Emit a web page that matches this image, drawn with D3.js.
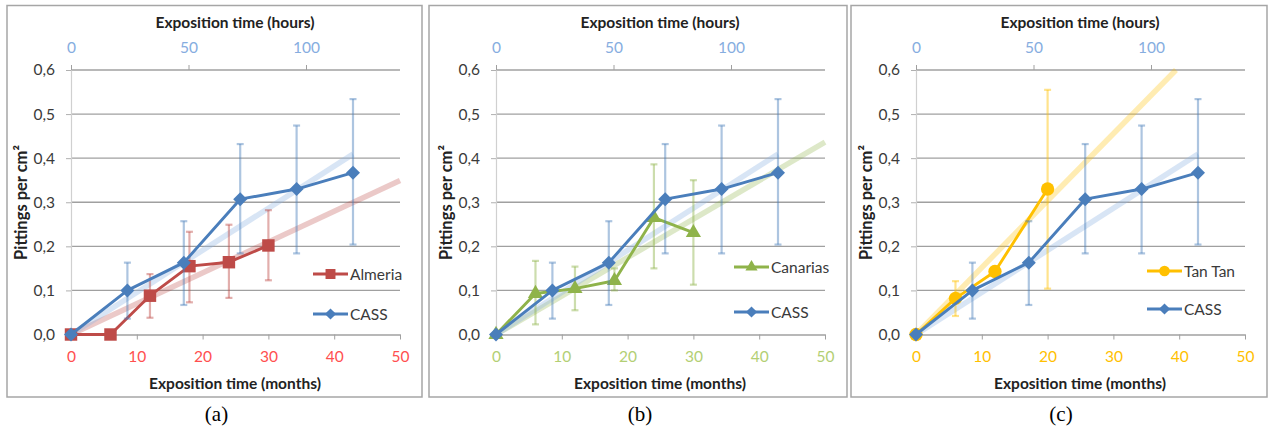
<!DOCTYPE html>
<html>
<head>
<meta charset="utf-8">
<script src="https://cdn.jsdelivr.net/npm/d3@7"></script>
<style>
  body { margin: 0; background: #fff; }
  svg { display: block; }
</style>
</head>
<body>
<script>
// axis ticks
var monthTicks = [0, 10, 20, 30, 40, 50];
var hourTicks = [0, 50, 100];
var yTicks = [0, 0.1, 0.2, 0.3, 0.4, 0.5, 0.6];

// CASS test (hours, top axis)
var cassHours = [0, 24, 48, 72, 96, 120];
var cassValues = [0, 0.1, 0.163, 0.307, 0.33, 0.367];
var cassLow = [null, 0.036, 0.067, 0.184, 0.184, 0.204];
var cassHigh = [null, 0.163, 0.257, 0.432, 0.474, 0.534];

// outdoor sites (months, bottom axis)
var almeriaMonths = [0, 6, 12, 18, 24, 30];
var almeriaValues = [0, 0, 0.088, 0.155, 0.164, 0.202];
var almeriaLow = [null, null, 0.038, 0.073, 0.083, 0.123];
var almeriaHigh = [null, null, 0.137, 0.233, 0.249, 0.282];

var canariasMonths = [0, 6, 12, 18, 24, 30];
var canariasValues = [0, 0.093, 0.104, 0.122, 0.265, 0.231];
var canariasLow = [null, 0.023, 0.055, 0.1, 0.15, 0.113];
var canariasHigh = [null, 0.167, 0.154, 0.15, 0.386, 0.35];

var tantanMonths = [0, 6, 12, 20];
var tantanValues = [0, 0.082, 0.143, 0.33];
var tantanLow = [null, 0.042, null, 0.104];
var tantanHigh = [null, 0.121, null, 0.555];

var CASS_COLOR = "#4A7EBB";
var FONT = "Lato, 'Open Sans', sans-serif";

var panels = [
  { caption: "(a)", name: "Almeria", xs: almeriaMonths, ys: almeriaValues, lo: almeriaLow, hi: almeriaHigh,
    color: "#BE4B48", tickColor: "#FF4F4F", marker: "square",
    left: 7, right: 422, plotLeft: 71, legendX: 242, legendY: [274, 314] },
  { caption: "(b)", name: "Canarias", xs: canariasMonths, ys: canariasValues, lo: canariasLow, hi: canariasHigh,
    color: "#8FB34A", tickColor: "#B3CF74", marker: "triangle",
    left: 429, right: 847, plotLeft: 496, legendX: 238, legendY: [267, 312] },
  { caption: "(c)", name: "Tan Tan", xs: tantanMonths, ys: tantanValues, lo: tantanLow, hi: tantanHigh,
    color: "#FFC000", tickColor: "#FFC000", marker: "circle",
    left: 851, right: 1267, plotLeft: 916, legendX: 231, legendY: [271, 309] }
];

var svg = d3.select("body").append("svg")
  .attr("width", 1268)
  .attr("height", 430)
  .style("font-family", FONT);

svg.append("rect").attr("width", 1268).attr("height", 430).attr("fill", "#fff");

panels.forEach(draw_panel);

function origin_slope(xs, ys) {
  var sxy = 0, sxx = 0;
  xs.forEach(function(v, i) { sxy += v * ys[i]; sxx += v * v; });
  return sxy / sxx;
}

function marker_path(kind, big) {
  var s = big ? 1 : 0.8;
  if (kind == "square") return d3.symbol().type(d3.symbolSquare).size(155 * s * s)();
  if (kind == "triangle") return d3.symbol().type(d3.symbolTriangle).size(100 * s * s)();
  if (kind == "circle") return d3.symbol().type(d3.symbolCircle).size(140 * s * s)();
  return d3.symbol().type(d3.symbolSquare).size(98 * s * s)();
}

function draw_panel(p) {
  var g = svg.append("g");
  var w = 329;

  var x = d3.scaleLinear().domain([0, 50]).range([p.plotLeft, p.plotLeft + w]);
  var xh = d3.scaleLinear().domain([0, 140]).range([p.plotLeft, p.plotLeft + w]);
  var y = d3.scaleLinear().domain([0, 0.6]).range([334.5, 70]);

  g.append("rect")
    .attr("x", p.left).attr("y", 5.5)
    .attr("width", p.right - p.left).attr("height", 391.5)
    .attr("fill", "#fff")
    .attr("stroke", "#a6a6a6")
    .attr("stroke-width", 1.5);

  // gridlines
  g.selectAll(".grid").data(yTicks.slice(1)).enter().append("line")
    .attr("x1", p.plotLeft).attr("x2", p.plotLeft + w)
    .attr("y1", function(d) { return y(d); })
    .attr("y2", function(d) { return y(d); })
    .attr("stroke", "#a0a0a0").attr("stroke-width", 1.3);

  // y axis
  var yAxis = g.append("g")
    .attr("transform", "translate(" + p.plotLeft + ",0)")
    .call(d3.axisLeft(y).tickValues(yTicks).tickSize(5).tickSizeOuter(0).tickPadding(11)
      .tickFormat(function(d) { return d.toFixed(1).replace(".", ","); }));
  yAxis.select(".domain").attr("stroke", "#d0d0d0").attr("stroke-width", 1.2);
  yAxis.selectAll("line").attr("stroke", "#b0b0b0");
  yAxis.selectAll("text").attr("font-size", 15.5).attr("fill", "#3a3a3a")
    .style("font-family", FONT);

  // bottom axis (months)
  var xAxis = g.append("g")
    .attr("transform", "translate(0," + y(0) + ")")
    .call(d3.axisBottom(x).tickValues(monthTicks).tickSize(5).tickSizeOuter(0));
  xAxis.select(".domain").attr("stroke", "#a0a0a0").attr("stroke-width", 1.3);
  xAxis.selectAll("line").attr("stroke", "#a0a0a0");
  xAxis.selectAll("text").attr("y", 27.5).attr("dy", 0)
    .attr("font-size", 15.5).attr("fill", p.tickColor).style("font-family", FONT);

  // top axis (hours)
  var hAxis = g.append("g")
    .attr("transform", "translate(0," + y(0.6) + ")")
    .call(d3.axisTop(xh).tickValues(hourTicks).tickSize(5).tickSizeOuter(0));
  hAxis.select(".domain").remove();
  hAxis.selectAll("line").attr("stroke", "#a0a0a0");
  hAxis.selectAll("text").attr("y", -17).attr("dy", 0)
    .attr("font-size", 15.5).attr("fill", "#86ADDF").style("font-family", FONT);

  // titles
  var cx = p.plotLeft + w / 2 - 0.5;
  g.append("text").attr("x", cx).attr("y", 27.5).attr("text-anchor", "middle")
    .attr("font-size", 15.5).attr("font-weight", "bold").attr("fill", "#222")
    .text("Exposition time (hours)");
  g.append("text").attr("x", cx).attr("y", 389).attr("text-anchor", "middle")
    .attr("font-size", 15.5).attr("font-weight", "bold").attr("fill", "#222")
    .text("Exposition time (months)");
  g.append("text")
    .attr("transform", "translate(" + (p.plotLeft - 44.5) + "," + 202.5 + ") rotate(-90)")
    .attr("text-anchor", "middle")
    .attr("font-size", 16.5).attr("font-weight", "bold").attr("fill", "#222")
    .text("Pittings per cm²");

  // caption
  svg.append("text").attr("x", (p.left + p.right) / 2 + 2).attr("y", 421)
    .attr("text-anchor", "middle")
    .style("font-family", "'Liberation Serif', 'Times New Roman', serif")
    .attr("font-size", 21).attr("fill", "#000")
    .text(p.caption);

  // trendlines (linear, through origin)
  var k = origin_slope(p.xs, p.ys);
  var xEnd = Math.min(50, 0.6 / k);
  g.append("line")
    .attr("x1", x(0)).attr("y1", y(0)).attr("x2", x(xEnd)).attr("y2", y(k * xEnd))
    .attr("stroke", p.color).attr("stroke-opacity", 0.3).attr("stroke-width", 5.5);
  var kh = origin_slope(cassHours, cassValues);
  var hEnd = cassHours[cassHours.length - 1];
  g.append("line")
    .attr("x1", xh(0)).attr("y1", y(0)).attr("x2", xh(hEnd)).attr("y2", y(kh * hEnd))
    .attr("stroke", "#8EB4E3").attr("stroke-opacity", 0.35).attr("stroke-width", 5.5);

  draw_series(g, p.xs.map(function(d) { return x(d); }), p.ys, p.lo, p.hi, y, p.color, p.marker);
  draw_series(g, cassHours.map(function(d) { return xh(d); }), cassValues, cassLow, cassHigh, y, CASS_COLOR, "diamond");

  // legend
  legend_item(g, p.plotLeft + p.legendX, p.legendY[0], p.color, p.marker, p.name);
  legend_item(g, p.plotLeft + p.legendX, p.legendY[1], CASS_COLOR, "diamond", "CASS");
}

function draw_series(g, px, ys, lo, hi, y, color, marker) {
  var bars = g.append("g")
    .attr("stroke", color).attr("stroke-opacity", 0.45).attr("stroke-width", 2.2);
  px.forEach(function(xv, i) {
    if (lo[i] == null) return;
    bars.append("line").attr("x1", xv).attr("x2", xv).attr("y1", y(lo[i])).attr("y2", y(hi[i]));
    bars.append("line").attr("x1", xv - 3.5).attr("x2", xv + 3.5).attr("y1", y(lo[i])).attr("y2", y(lo[i]));
    bars.append("line").attr("x1", xv - 3.5).attr("x2", xv + 3.5).attr("y1", y(hi[i])).attr("y2", y(hi[i]));
  });

  var line = d3.line()
    .x(function(d) { return d[0]; })
    .y(function(d) { return y(d[1]); });
  var pts = px.map(function(xv, i) { return [xv, ys[i]]; });

  g.append("path").datum(pts)
    .attr("d", line)
    .attr("fill", "none")
    .attr("stroke", color)
    .attr("stroke-width", 2.9)
    .attr("stroke-linejoin", "round");

  g.selectAll(null).data(pts).enter().append("path")
    .attr("d", marker_path(marker, true))
    .attr("transform", function(d) {
      return "translate(" + d[0] + "," + y(d[1]) + ")" + (marker == "diamond" ? " rotate(45)" : "");
    })
    .attr("fill", color);
}

function legend_item(g, lx, ly, color, marker, label) {
  g.append("line")
    .attr("x1", lx).attr("x2", lx + 35).attr("y1", ly).attr("y2", ly)
    .attr("stroke", color).attr("stroke-width", 2.9);
  g.append("path")
    .attr("d", marker_path(marker, false))
    .attr("transform", "translate(" + (lx + 17.5) + "," + ly + ")" + (marker == "diamond" ? " rotate(45)" : ""))
    .attr("fill", color);
  g.append("text")
    .attr("x", lx + 37).attr("y", ly + 5.5)
    .attr("font-size", 15.5).attr("fill", "#3a3a3a")
    .text(label);
}
</script>
</body>
</html>
